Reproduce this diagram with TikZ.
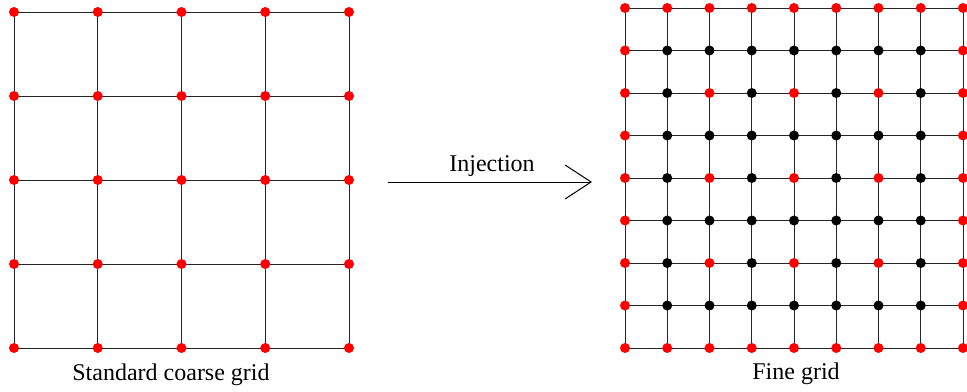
\documentclass[tikz,border=0pt]{standalone}
\usepackage{fontspec}
\newfontfamily\timesfont{Liberation Serif}
\usetikzlibrary{arrows.meta}
\tikzstyle{gridline} = [black!85, line width=0.5pt]
\tikzstyle{reddot} = [circle, fill=red, inner sep=0pt, minimum size=5pt]
\tikzstyle{blackdot} = [circle, fill=black, inner sep=0pt, minimum size=5pt]
\tikzstyle{gridtitle} = [font=\timesfont\fontsize{12}{14}\selectfont]
\tikzstyle{arrow} = [line width=0.5pt, -{Straight Barb[length=13pt, width=17pt, line width=0.5pt]}]

\begin{document}
\begin{tikzpicture}[x=0.5pt, y=-0.5pt]
    \useasboundingbox (0,0) rectangle (967,391);
    % coarse grid
    \foreach \i in {0,...,4}
        \foreach \j in {0,...,4}
            \coordinate (c-\i-\j) at ({14+83.75*\i},{12+84*\j});
    \foreach \k in {0,...,4} {
        \draw [gridline] (c-\k-0) -- (c-\k-4);
        \draw [gridline] (c-0-\k) -- (c-4-\k);
    }
    \foreach \i in {0,...,4}
        \foreach \j in {0,...,4}
            \node [reddot] at (c-\i-\j) {};
    \node [gridtitle] at (171,375) (coarse) {Standard coarse grid};
    % fine grid
    \foreach \i in {0,...,8}
        \foreach \j in {0,...,8}
            \coordinate (f-\i-\j) at ({625+42.25*\i},{8+42.5*\j});
    \foreach \k in {0,...,8} {
        \draw [gridline] (f-\k-0) -- (f-\k-8);
        \draw [gridline] (f-0-\k) -- (f-8-\k);
    }
    \foreach \i in {0,...,8}
        \foreach \j in {0,...,8} {
            \pgfmathtruncatemacro{\isred}{or(or(\i==0,\i==8),or(or(\j==0,\j==8),and(iseven(\i),iseven(\j))))}
            \ifnum\isred=1
                \node [reddot] at (f-\i-\j) {};
            \else
                \node [blackdot] at (f-\i-\j) {};
            \fi
        }
    \node [gridtitle] at (796,374) (fine) {Fine grid};
    % injection
    \coordinate (inj-start) at (388,182);
    \coordinate (inj-end) at (592,182);
    \draw [arrow] (inj-start) -- (inj-end);
    \node [gridtitle] at (492,166) (inj) {Injection};
\end{tikzpicture}
\end{document}
